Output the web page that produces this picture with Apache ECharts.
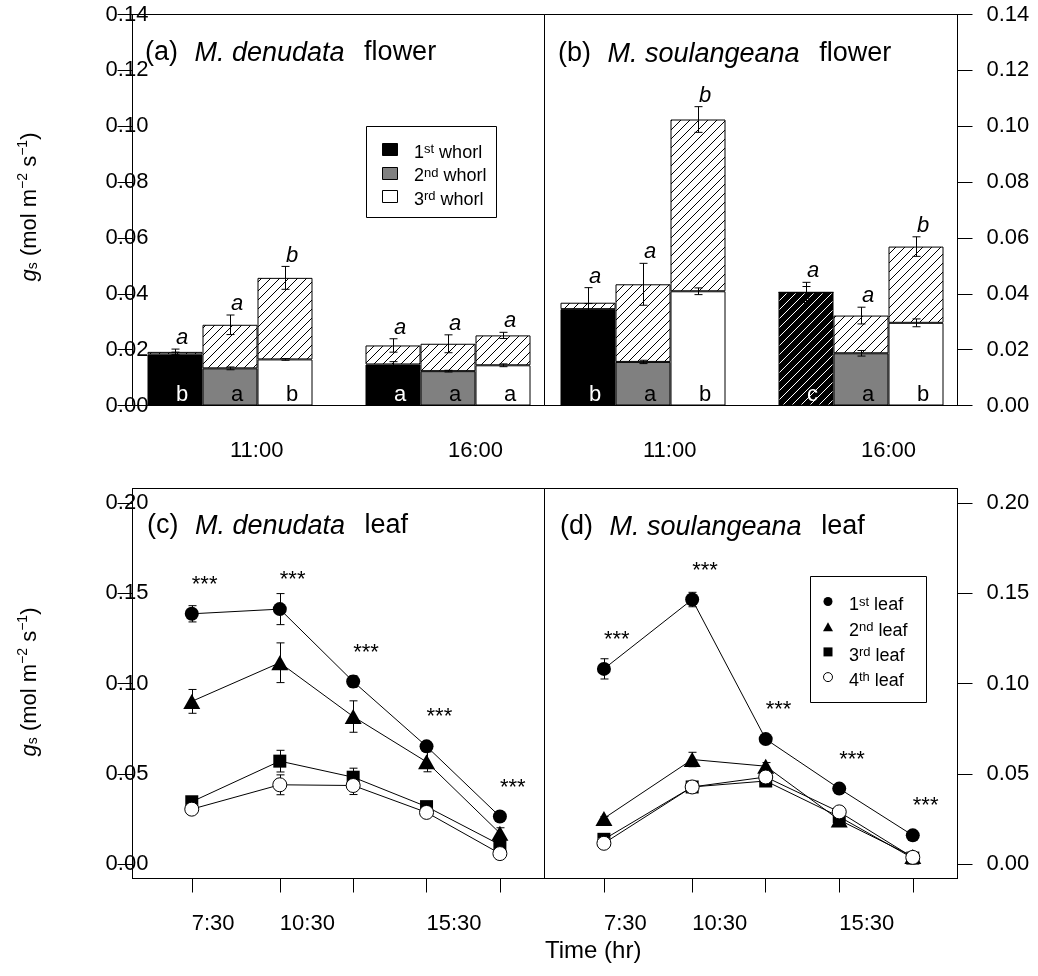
<!DOCTYPE html>
<html>
<head>
<meta charset="utf-8">
<script src="https://cdn.jsdelivr.net/npm/echarts@6/dist/echarts.min.js"></script>
<style>
  html, body { margin: 0; padding: 0; background: #fff; }
  #chart { width: 1038px; height: 976px; }
</style>
</head>
<body>
<div id="chart"></div>
<script>
// ---------- Flower whorls (panels a, b) ----------
const flowerTimes = ['11:00', '16:00'];
const whorlNames = ['1st whorl', '2nd whorl', '3rd whorl'];
const flowerTicks = [0, 0.02, 0.04, 0.06, 0.08, 0.10, 0.12, 0.14];

// rows = whorl (1st, 2nd, 3rd); columns = time (11:00, 16:00)
const denudataBase = [[0.0183, 0.0147], [0.0133, 0.0123], [0.0165, 0.0144]];
const denudataBaseErr = [[0.0008, 0.0010], [0.0005, 0.0003], [0.0003, 0.0005]];
const denudataTotal = [[0.0192, 0.0215], [0.0289, 0.0221], [0.0457, 0.0251]];
const denudataTotalErr = [[0.0010, 0.0024], [0.0035, 0.0032], [0.0041, 0.0011]];
const denudataTotalLetters = [['a', 'a'], ['a', 'a'], ['b', 'a']];
const denudataBaseLetters = [['b', 'a'], ['a', 'a'], ['b', 'a']];

const soulangeanaBase = [[0.0345, 0.0405], [0.0156, 0.0187], [0.0409, 0.0296]];
const soulangeanaBaseErr = [[0.0020, 0.0021], [0.0006, 0.0010], [0.0012, 0.0014]];
const soulangeanaTotal = [[0.0368, 0.0405], [0.0434, 0.0322], [0.1024, 0.0569]];
const soulangeanaTotalErr = [[0.0054, 0.0036], [0.0075, 0.0030], [0.0046, 0.0035]];
const soulangeanaTotalLetters = [['a', 'a'], ['a', 'a'], ['b', 'b']];
const soulangeanaBaseLetters = [['b', 'c'], ['a', 'a'], ['b', 'b']];

// ---------- Leaves (panels c, d) ----------
const leafNames = ['1st leaf', '2nd leaf', '3rd leaf', '4th leaf'];
const sampleTimes = [7.5, 10.5, 13, 15.5, 18];
const timeLabelValues = [7.5, 10.5, 15.5];
const timeLabels = ['7:30', '10:30', '15:30'];
const leafTicks = [0, 0.05, 0.10, 0.15, 0.20];

// rows = leaf (1st..4th); columns = sampling time
const denudataLeaf = [
  [0.1386, 0.1412, 0.1011, 0.0652, 0.0263],
  [0.0901, 0.1115, 0.0817, 0.0566, 0.0171],
  [0.0345, 0.0570, 0.0481, 0.0318, 0.0107],
  [0.0304, 0.0439, 0.0435, 0.0286, 0.0058]
];
const denudataLeafErr = [
  [0.0045, 0.0086, 0.0032, 0.0020, 0.0020],
  [0.0066, 0.0110, 0.0087, 0.0055, 0.0030],
  [0.0020, 0.0060, 0.0050, 0.0020, 0.0020],
  [0.0020, 0.0055, 0.0050, 0.0020, 0.0010]
];
const soulangeanaLeaf = [
  [0.1081, 0.1465, 0.0692, 0.0418, 0.0159],
  [0.0253, 0.0579, 0.0542, 0.0244, 0.0042],
  [0.0137, 0.0427, 0.0460, 0.0262, 0.0033],
  [0.0115, 0.0427, 0.0482, 0.0289, 0.0037]
];
const soulangeanaLeafErr = [
  [0.0056, 0.0040, 0.0020, 0.0015, 0.0010],
  [0.0010, 0.0040, 0.0020, 0.0015, 0.0010],
  [0.0010, 0.0010, 0.0010, 0.0010, 0.0010],
  [0.0010, 0.0010, 0.0010, 0.0010, 0.0010]
];
const denudataSig = ['***', '***', '***', '***', '***'];
const soulangeanaSig = ['***', '***', '***', '***', '***'];

// ---------- Styling ----------
const FONT = "'Liberation Sans', Arial, Helvetica, sans-serif";
const BAR_W = 55;
const WHISKER = 8;
const whorlColors = ['#000000', '#808080', '#ffffff'];
const leafSymbols = ['circle', 'triangle', 'rect', 'circle'];
const leafSymbolSizes = [14, [17, 15], 13, 14];
const leafFills = ['#000', '#000', '#000', '#fff'];
// the 16:00 first-whorl bar of M. soulangeana is drawn black with white hatching
const hatchedBaseCells = { soulangeana: [[0, 1]] };

function hatch(bg, fg, step) {
  const c = document.createElement('canvas');
  c.width = c.height = step;
  const g = c.getContext('2d');
  g.fillStyle = bg;
  g.fillRect(0, 0, step, step);
  g.strokeStyle = fg;
  g.lineWidth = 1;
  g.beginPath();
  for (let k = -1; k <= 1; k++) {
    g.moveTo(k * step, step);
    g.lineTo(k * step + step, 0);
  }
  g.stroke();
  return { image: c, repeat: 'repeat' };
}
const HATCH = hatch('#ffffff', '#000000', 9);
const HATCH_DARK = hatch('#000000', '#ffffff', 9);

const tickFont = { color: '#000', fontFamily: FONT, fontSize: 22 };

function errorShape(x, yTop, yBot) {
  const h = WHISKER / 2;
  const ln = (x1, y1, x2, y2) => ({
    type: 'line', shape: { x1, y1, x2, y2 }, style: { stroke: '#000', lineWidth: 1 }
  });
  return { type: 'group', children: [ln(x, yTop, x, yBot), ln(x - h, yTop, x + h, yTop), ln(x - h, yBot, x + h, yBot)] };
}

// ---------- Flower panel builder ----------
function flowerSeries(axis, key, base, baseErr, total, totalErr, topLetters, baseLetters, darkCells) {
  const list = [];
  for (let w = 0; w < 3; w++) {
    list.push({
      type: 'bar', name: whorlNames[w], xAxisIndex: axis, yAxisIndex: axis,
      stack: key + w, barWidth: BAR_W, barGap: '0%',
      itemStyle: { color: whorlColors[w], borderColor: '#000', borderWidth: 1 },
      data: base[w].map((v, t) => {
        const dark = (darkCells || []).some(c => c[0] === w && c[1] === t);
        return dark ? { value: v, itemStyle: { color: HATCH_DARK } } : v;
      }),
      z: 2
    });
    list.push({
      type: 'bar', name: whorlNames[w] + ' total', xAxisIndex: axis, yAxisIndex: axis,
      stack: key + w, barWidth: BAR_W, barGap: '0%',
      itemStyle: { color: HATCH, borderColor: '#000', borderWidth: 1 },
      data: total[w].map((v, t) => Math.max(v - base[w][t], 0)),
      z: 2
    });
  }
  // error bars on both the whorl part and the total
  const errData = [];
  for (let w = 0; w < 3; w++) {
    for (let t = 0; t < 2; t++) {
      errData.push([t, w, base[w][t], baseErr[w][t]]);
      errData.push([t, w, total[w][t], totalErr[w][t]]);
    }
  }
  list.push({
    type: 'custom', xAxisIndex: axis, yAxisIndex: axis, silent: true, z: 5,
    encode: { x: 0, y: 2 },
    data: errData,
    renderItem: (params, api) => {
      const t = api.value(0), w = api.value(1), v = api.value(2), e = api.value(3);
      const x = Math.round(api.coord([t, v])[0] + (w - 1) * BAR_W) + 0.5;
      return errorShape(x, api.coord([t, v + e])[1], api.coord([t, v - e])[1]);
    }
  });
  // letters: italic above each total, upright inside each whorl bar
  const letterData = [];
  for (let w = 0; w < 3; w++) {
    for (let t = 0; t < 2; t++) letterData.push([t, w, total[w][t] + totalErr[w][t]]);
  }
  list.push({
    type: 'custom', xAxisIndex: axis, yAxisIndex: axis, silent: true, z: 6,
    encode: { x: 0, y: 2 },
    data: letterData,
    renderItem: (params, api) => {
      const t = api.value(0), w = api.value(1), top = api.value(2);
      const x = api.coord([t, top])[0] + (w - 1) * BAR_W + 1;
      const yTop = api.coord([t, top])[1] - 11;
      const yBase = api.coord([t, 0])[1] - 11;
      return {
        type: 'group', children: [
          { type: 'text', x, y: yTop, style: { text: topLetters[w][t], fontFamily: FONT, fontSize: 22, fontStyle: 'italic', fill: '#000', align: 'left', verticalAlign: 'middle' } },
          { type: 'text', x, y: yBase, style: { text: baseLetters[w][t], fontFamily: FONT, fontSize: 22, fill: w === 0 ? '#fff' : '#000', align: 'left', verticalAlign: 'middle' } }
        ]
      };
    }
  });
  return list;
}

// ---------- Leaf panel builder ----------
function leafSeries(axis, values, errs, sig) {
  const list = [];
  const errData = [];
  values.forEach((row, k) => row.forEach((v, i) => errData.push([sampleTimes[i], v, errs[k][i]])));
  list.push({
    type: 'custom', xAxisIndex: axis, yAxisIndex: axis, silent: true, z: 2,
    encode: { x: 0, y: 1 },
    data: errData,
    renderItem: (params, api) => {
      const t = api.value(0), v = api.value(1), e = api.value(2);
      const x = Math.round(api.coord([t, v])[0]) + 0.5;
      return errorShape(x, api.coord([t, v + e])[1], api.coord([t, v - e])[1]);
    }
  });
  values.forEach((row, k) => {
    list.push({
      type: 'line', name: leafNames[k], xAxisIndex: axis, yAxisIndex: axis,
      data: row.map((v, i) => [sampleTimes[i], v]),
      symbol: leafSymbols[k], symbolSize: leafSymbolSizes[k],
      lineStyle: { color: '#000', width: 1 },
      itemStyle: { color: leafFills[k], borderColor: '#000', borderWidth: k === 3 ? 1 : 0 },
      z: 3 + k, silent: true
    });
  });
  // significance stars above the highest mean at each time
  const starData = sampleTimes.map((t, i) => [t, Math.max(...values.map(r => r[i]))]);
  list.push({
    type: 'custom', xAxisIndex: axis, yAxisIndex: axis, silent: true, z: 10,
    encode: { x: 0, y: 1 },
    data: starData,
    renderItem: (params, api) => {
      const c = api.coord([api.value(0), api.value(1)]);
      return { type: 'text', x: c[0], y: c[1] - 29, style: { text: sig[params.dataIndex], fontFamily: FONT, fontSize: 22, fill: '#000', align: 'left', verticalAlign: 'middle' } };
    }
  });
  return list;
}

// ---------- Axes ----------
const frameGrid = (left, top, width, height) => ({
  left, top, width, height, show: true, borderColor: '#000', borderWidth: 1, backgroundColor: 'transparent'
});

function valueY(grid, min, max, ticks, side) {
  return {
    gridIndex: grid, type: 'value', min, max, position: side,
    axisLine: { show: true, onZero: false, lineStyle: { color: '#000', width: 1 } },
    axisTick: { show: true, inside: false, length: 15, lineStyle: { color: '#000' }, customValues: ticks },
    axisLabel: Object.assign({
      customValues: ticks, formatter: v => v.toFixed(2),
      align: side === 'left' ? 'center' : 'left', margin: side === 'left' ? 5.5 : 29
    }, tickFont),
    splitLine: { show: false }
  };
}
function timeX(grid) {
  return {
    gridIndex: grid, type: 'value', min: 5.48, max: 19.52,
    axisLine: { show: true, onZero: false, lineStyle: { color: '#000' } },
    axisTick: { show: true, inside: false, length: 14, lineStyle: { color: '#000' }, customValues: sampleTimes },
    axisLabel: Object.assign({
      customValues: timeLabelValues, formatter: v => timeLabels[timeLabelValues.indexOf(v)],
      align: 'left', margin: 34
    }, tickFont),
    splitLine: { show: false }
  };
}
function categoryX(grid) {
  return {
    gridIndex: grid, type: 'category', data: flowerTimes,
    axisLine: { show: false }, axisTick: { show: false },
    axisLabel: Object.assign({ align: 'left', margin: 34 }, tickFont),
    splitLine: { show: false }
  };
}

// ---------- Text helpers ----------
const supFormat = name => name.replace(/^(\d)(\w\w) (.+)$/, '{n|$1}{sup|$2}{n| $3}');
// rich styles for "1st"-type labels: the superscript rides on the top of a taller line
const legendRich = (supLift) => ({
  n: { fontFamily: FONT, fontSize: 18, lineHeight: 19, verticalAlign: 'bottom', fill: '#000' },
  sup: { fontFamily: FONT, fontSize: 13, lineHeight: 13, verticalAlign: 'top', padding: [0, 0, supLift, 0], fill: '#000' }
});

const yTitleRich = {
  g: { fontFamily: FONT, fontSize: 22, fontStyle: 'italic', lineHeight: 24, verticalAlign: 'bottom', fill: '#000' },
  t: { fontFamily: FONT, fontSize: 22, lineHeight: 24, verticalAlign: 'bottom', fill: '#000' },
  sub: { fontFamily: FONT, fontSize: 14, lineHeight: 14, verticalAlign: 'bottom', fill: '#000' },
  sup: { fontFamily: FONT, fontSize: 14, lineHeight: 14, verticalAlign: 'top', padding: [0, 0, 18, 0], fill: '#000' }
};
const yTitleText = '{g|g}{sub|s}{t| (mol m}{sup|\u22122}{t| s}{sup|\u22121}{t|)}';
const panelRich = { i: { fontFamily: FONT, fontSize: 27, fontStyle: 'italic', padding: [0, 12, 0, 9], fill: '#000' } };

const yTitle = cy => ({
  type: 'text', x: 28.5, y: cy, rotation: Math.PI / 2,
  style: { text: yTitleText, rich: yTitleRich, fontFamily: FONT, fontSize: 22, fill: '#000', align: 'center', verticalAlign: 'middle' }
});
const panelTitle = (x, y, text) => ({
  type: 'text', x, y,
  style: { text, rich: panelRich, fontFamily: FONT, fontSize: 27, fill: '#000', align: 'left', verticalAlign: 'middle' }
});

// ---------- Legends ----------
function whorlLegend(left, top) {
  const els = [{
    type: 'rect', shape: { x: left + 0.5, y: top + 0.5, width: 130, height: 91 },
    style: { fill: '#fff', stroke: '#000', lineWidth: 1 }, z: 20
  }];
  whorlNames.forEach((name, k) => {
    const cy = top + 23 + k * 23.5;
    els.push({
      type: 'rect', shape: { x: left + 16.5, y: Math.round(cy - 6) + 0.5, width: 15, height: 12 },
      style: { fill: whorlColors[k], stroke: '#000', lineWidth: 1 }, z: 21
    });
    els.push({
      type: 'text', x: left + 48, y: cy + 7 - 3.5, z: 21,
      style: { text: supFormat(name), rich: legendRich(13), fontFamily: FONT, fontSize: 18, fill: '#000', align: 'left', verticalAlign: 'middle' }
    });
  });
  return els;
}
function leafLegend(left, top) {
  const els = [{
    type: 'rect', shape: { x: left + 0.5, y: top + 0.5, width: 116, height: 126 },
    style: { fill: '#fff', stroke: '#000', lineWidth: 1 }, z: 20
  }];
  const mx = left + 18;
  leafNames.forEach((name, k) => {
    const cy = top + 25.5 + k * 25.2;
    let marker;
    if (leafSymbols[k] === 'circle') {
      marker = { type: 'circle', shape: { cx: mx, cy, r: 4.5 }, style: { fill: leafFills[k], stroke: '#000', lineWidth: k === 3 ? 1 : 0 } };
    } else if (leafSymbols[k] === 'triangle') {
      marker = { type: 'polygon', shape: { points: [[mx - 5, cy + 4.5], [mx + 5, cy + 4.5], [mx, cy - 4.5]] }, style: { fill: '#000' } };
    } else {
      marker = { type: 'rect', shape: { x: mx - 4.5, y: cy - 4.5, width: 9, height: 9 }, style: { fill: '#000' } };
    }
    marker.z = 21;
    els.push(marker);
    els.push({
      type: 'text', x: left + 39, y: cy + 6.5 - 3, z: 21,
      style: { text: supFormat(name), rich: legendRich(12), fontFamily: FONT, fontSize: 18, fill: '#000', align: 'left', verticalAlign: 'middle' }
    });
  });
  return els;
}

const option = {
  animation: false,
  backgroundColor: '#fff',
  grid: [
    frameGrid(132.5, 14.5, 412, 391),   // (a)
    frameGrid(544.5, 14.5, 413, 391),   // (b)
    frameGrid(132.5, 488.5, 412, 390),  // (c)
    frameGrid(544.5, 488.5, 413, 390),  // (d)
    { left: 121, top: 14.5, width: 436, height: 391 },   // bars of (a)
    { left: 534, top: 14.5, width: 436, height: 391 }    // bars of (b)
  ],
  xAxis: [
    { gridIndex: 0, type: 'value', show: false },
    { gridIndex: 1, type: 'value', show: false },
    timeX(2),
    timeX(3),
    categoryX(4),
    categoryX(5)
  ],
  yAxis: [
    valueY(0, 0, 0.14, flowerTicks, 'left'),
    valueY(1, 0, 0.14, flowerTicks, 'right'),
    valueY(2, -0.008, 0.208, leafTicks, 'left'),
    valueY(3, -0.008, 0.208, leafTicks, 'right'),
    { gridIndex: 4, type: 'value', min: 0, max: 0.14, show: false },
    { gridIndex: 5, type: 'value', min: 0, max: 0.14, show: false }
  ],
  graphic: [].concat(
    [
      panelTitle(145, 53, '(a) {i|M. denudata} flower'),
      panelTitle(558, 54, '(b) {i|M. soulangeana} flower'),
      panelTitle(147, 526, '(c) {i|M. denudata} leaf'),
      panelTitle(560, 527, '(d) {i|M. soulangeana} leaf'),
      yTitle(207),
      yTitle(682),
      { type: 'text', x: 545, y: 951, style: { text: 'Time (hr)', fontFamily: FONT, fontSize: 24, fill: '#000', align: 'left', verticalAlign: 'middle' } }
    ],
    whorlLegend(366, 126),
    leafLegend(810, 576)
  ),
  series: [].concat(
    flowerSeries(4, 'den', denudataBase, denudataBaseErr, denudataTotal, denudataTotalErr, denudataTotalLetters, denudataBaseLetters, null),
    flowerSeries(5, 'soul', soulangeanaBase, soulangeanaBaseErr, soulangeanaTotal, soulangeanaTotalErr, soulangeanaTotalLetters, soulangeanaBaseLetters, hatchedBaseCells.soulangeana),
    leafSeries(2, denudataLeaf, denudataLeafErr, denudataSig),
    leafSeries(3, soulangeanaLeaf, soulangeanaLeafErr, soulangeanaSig)
  )
};

const chart = echarts.init(document.getElementById('chart'));
chart.setOption(option);
</script>
</body>
</html>
